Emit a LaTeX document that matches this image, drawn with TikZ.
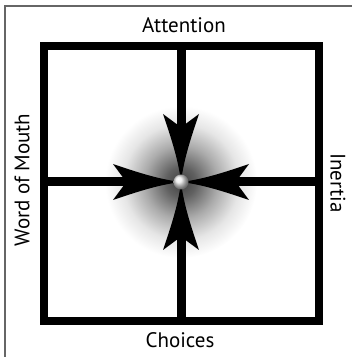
\documentclass[tikz,border=0pt]{standalone}
\usepackage{fontspec}
\setmainfont{PT Sans}
\usetikzlibrary{calc}
\tikzset{
  boxline/.style={line width=8.5pt, black},
  shaft/.style={line width=9pt, black},
  edgeline/.style={line width=1.3pt, black!60},
  sidelabel/.style={font=\fontsize{21}{23}\selectfont, inner sep=0pt},
  spike/.pic={
    \fill[black] (0,0) .. controls (-25,3) and (-50,12) .. (-68,18)
      -- (-58,4.5) -- (-58,-4.5) -- (-68,-18)
      .. controls (-50,-12) and (-25,-3) .. (0,0) -- cycle;
  }
}
\pgfdeclareradialshading{haze}{\pgfpoint{0bp}{0bp}}{color(0bp)=(black!75); color(5bp)=(black!62); color(12bp)=(black!33); color(19bp)=(black!10); color(25bp)=(white); color(50bp)=(white)}
\begin{document}
\begin{tikzpicture}[x=1pt, y=1pt]
  \useasboundingbox (0,0) rectangle (352,357);
  \coordinate (c) at (181,175);
  % soft glow behind the centre
  \shade[shading=haze] (c) circle (76);
  % frame and square
  \draw[edgeline] (5,0) -- (5,351) -- (352,351);
  \draw[boxline] (44,36) rectangle (319,311);
  \coordinate (top) at (181,311);
  \coordinate (bottom) at (181,36);
  \coordinate (left) at (44,175);
  \coordinate (right) at (319,175);
  % shafts
  \draw[shaft] (top) -- ($(c)+(0,58)$);
  \draw[shaft] (bottom) -- ($(c)+(0,-58)$);
  \draw[shaft] (left) -- ($(c)+(-58,0)$);
  \draw[shaft] (right) -- ($(c)+(58,0)$);
  % heads
  \pic[rotate=-90] at (c) {spike};
  \pic[rotate=90] at (c) {spike};
  \pic at (c) {spike};
  \pic[rotate=180] at (c) {spike};
  \shade[ball color=white!92!black] (c) circle (7.5);
  % labels
  \node[sidelabel] (attention) at (184,332) {Attention};
  \node[sidelabel] (choices) at (180,17) {Choices};
  \node[sidelabel, rotate=90] (wom) at (22,177) {Word of Mouth};
  \node[sidelabel, rotate=-90] (inertia) at (338,174) {Inertia};
\end{tikzpicture}
\end{document}
